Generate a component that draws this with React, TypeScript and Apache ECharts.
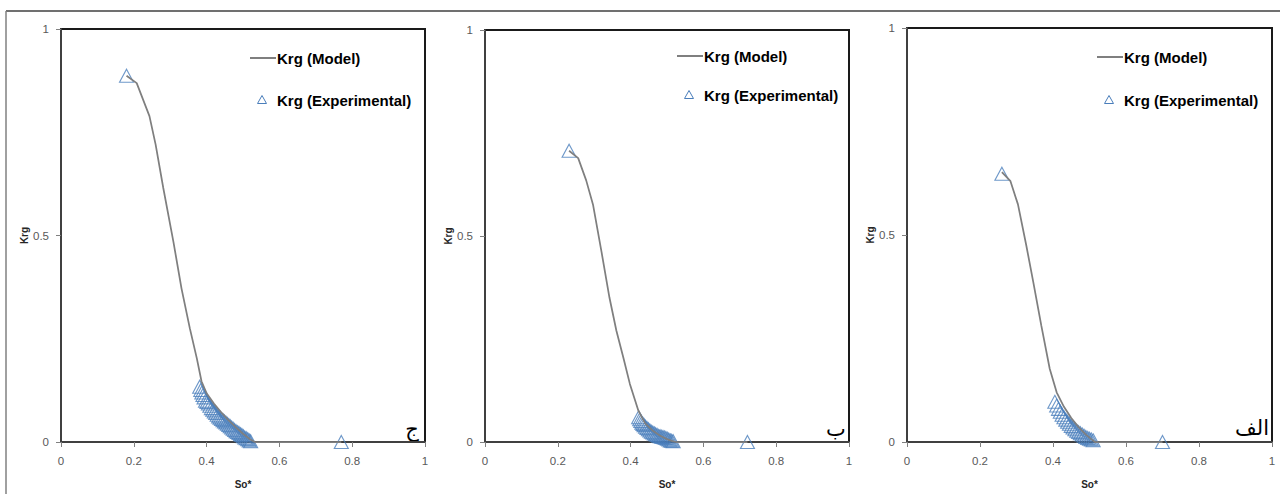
import React, { useEffect, useRef } from "react";
import * as echarts from "echarts";

// Panel ج (left)
const model1So = [0.18, 0.208, 0.243, 0.26, 0.281, 0.309, 0.331, 0.354, 0.373, 0.386, 0.4, 0.42, 0.44, 0.46, 0.48, 0.5, 0.52, 0.533, 0.77];
const model1Krg = [0.887, 0.869, 0.789, 0.72, 0.615, 0.484, 0.372, 0.275, 0.203, 0.147, 0.118, 0.093, 0.072, 0.053, 0.036, 0.02, 0.006, 0, 0];
const exp1So = [0.18, 0.381, 0.384, 0.387, 0.39, 0.393, 0.397, 0.401, 0.405, 0.409, 0.413, 0.417, 0.421, 0.425, 0.429, 0.433, 0.437, 0.441, 0.445, 0.449, 0.453, 0.457, 0.461, 0.465, 0.469, 0.473, 0.477, 0.481, 0.485, 0.489, 0.493, 0.497, 0.501, 0.505, 0.509, 0.513, 0.517, 0.521, 0.77];
const exp1Krg = [0.887, 0.134, 0.126, 0.12, 0.114, 0.108, 0.1, 0.097, 0.093, 0.088, 0.082, 0.078, 0.074, 0.07, 0.066, 0.062, 0.059, 0.056, 0.053, 0.05, 0.047, 0.044, 0.041, 0.038, 0.035, 0.032, 0.029, 0.026, 0.024, 0.022, 0.019, 0.017, 0.014, 0.011, 0.009, 0.007, 0.004, 0.002, 0];

// Panel ب (middle)
const model2So = [0.231, 0.256, 0.278, 0.297, 0.32, 0.342, 0.361, 0.38, 0.398, 0.421, 0.44, 0.46, 0.48, 0.5, 0.515, 0.525, 0.721];
const model2Krg = [0.707, 0.689, 0.635, 0.575, 0.462, 0.35, 0.27, 0.205, 0.141, 0.077, 0.045, 0.028, 0.016, 0.007, 0.002, 0, 0];
const exp2So = [0.231, 0.422, 0.425, 0.428, 0.431, 0.434, 0.437, 0.441, 0.445, 0.449, 0.453, 0.457, 0.461, 0.465, 0.469, 0.473, 0.477, 0.481, 0.485, 0.489, 0.493, 0.497, 0.501, 0.505, 0.509, 0.513, 0.517, 0.721];
const exp2Krg = [0.707, 0.06, 0.055, 0.051, 0.047, 0.044, 0.041, 0.037, 0.034, 0.031, 0.028, 0.025, 0.023, 0.021, 0.019, 0.017, 0.015, 0.014, 0.013, 0.012, 0.011, 0.01, 0.008, 0.006, 0.004, 0.003, 0.002, 0];

// Panel الف (right)
const model3So = [0.26, 0.2835, 0.304, 0.327, 0.346, 0.368, 0.391, 0.41, 0.43, 0.45, 0.47, 0.49, 0.505, 0.515, 0.7];
const model3Krg = [0.652, 0.63, 0.574, 0.474, 0.386, 0.281, 0.177, 0.12, 0.085, 0.058, 0.036, 0.018, 0.007, 0, 0];
const exp3So = [0.26, 0.405, 0.41, 0.415, 0.42, 0.425, 0.43, 0.435, 0.44, 0.445, 0.45, 0.455, 0.46, 0.465, 0.47, 0.475, 0.48, 0.485, 0.49, 0.495, 0.5, 0.505, 0.51, 0.7];
const exp3Krg = [0.648, 0.097, 0.088, 0.08, 0.073, 0.066, 0.06, 0.054, 0.049, 0.044, 0.039, 0.035, 0.031, 0.027, 0.024, 0.021, 0.018, 0.015, 0.012, 0.01, 0.008, 0.006, 0.004, 0];

const panelLetters = ["ج", "ب", "الف"];
const modelName = "Krg (Model)";
const expName = "Krg (Experimental)";
const xName = "So*";
const yName = "Krg";

const zip = (a: number[], b: number[]) => a.map((v, i) => [v, b[i]]);

const panels = [
  { model: zip(model1So, model1Krg), exp: zip(exp1So, exp1Krg), grid: { left: 61, top: 29, width: 364, height: 415 }, leg: { lx: 250, ly1: 58, ly2: 100, tx: 262 }, letter: { x: 412, y: 429 } },
  { model: zip(model2So, model2Krg), exp: zip(exp2So, exp2Krg), grid: { left: 485, top: 30, width: 364, height: 415 }, leg: { lx: 677, ly1: 56, ly2: 95, tx: 689 }, letter: { x: 836, y: 429 } },
  { model: zip(model3So, model3Krg), exp: zip(exp3So, exp3Krg), grid: { left: 907, top: 28, width: 365, height: 415 }, leg: { lx: 1097, ly1: 57, ly2: 100, tx: 1109 }, letter: { x: 1252, y: 428 } },
];

const BLUE = "#4A7EBB";
const GRAY = "#7F7F7F";
const FONT = '"Liberation Sans", Arial, sans-serif';

export default function App() {
  const ref = useRef<HTMLDivElement>(null);
  useEffect(() => {
    if (!ref.current) return;
    const chart = echarts.init(ref.current, undefined, { renderer: "svg" });
    const grids = panels.map((p) => ({ ...p.grid, show: true, borderColor: "#1a1a1a", borderWidth: 2, backgroundColor: "transparent", containLabel: false }));
    const xAxes = panels.map((_, i) => ({
      type: "value", gridIndex: i, min: 0, max: 1, interval: 0.2,
      name: xName, nameLocation: "middle", nameGap: 37,
      nameTextStyle: { fontFamily: FONT, fontWeight: "bold", fontSize: 10, color: "#262626" },
      axisLine: { show: true, lineStyle: { color: "#404040", width: 2 } },
      axisTick: { show: true, length: 5, lineStyle: { color: "#808080" } },
      axisLabel: { fontFamily: FONT, fontSize: 11.5, color: "#595959", margin: 13 },
      splitLine: { show: false },
    }));
    const yAxes = panels.map((_, i) => ({
      type: "value", gridIndex: i, min: 0, max: 1, interval: 0.5,
      name: yName, nameLocation: "middle", nameGap: 32, nameRotate: 90,
      nameTextStyle: { fontFamily: FONT, fontWeight: "bold", fontSize: 10, color: "#262626" },
      axisLine: { show: true, lineStyle: { color: "#404040", width: 2 } },
      axisTick: { show: true, length: 5, lineStyle: { color: "#808080" } },
      axisLabel: { fontFamily: FONT, fontSize: 11.5, color: "#595959", margin: 12 },
      splitLine: { show: false },
    }));
    const series: any[] = [];
    panels.forEach((p, i) => {
      series.push({
        type: "line", name: modelName, xAxisIndex: i, yAxisIndex: i, data: p.model,
        showSymbol: false, symbol: "none", lineStyle: { color: GRAY, width: 1.75 }, z: 3,
      });
      series.push({
        type: "scatter", name: expName, xAxisIndex: i, yAxisIndex: i, data: p.exp,
        symbol: "triangle", symbolSize: [14, 13],
        itemStyle: { color: "rgba(0,0,0,0)", borderColor: BLUE, borderWidth: 1.1 }, z: 2,
      });
    });
    const graphic: any[] = [
      { type: "line", shape: { x1: 6, y1: 11, x2: 1280, y2: 11 }, style: { stroke: "#404040", lineWidth: 1.5 } },
      { type: "line", shape: { x1: 6, y1: 11, x2: 6, y2: 494 }, style: { stroke: "#808080", lineWidth: 1.5 } },
    ];
    panels.forEach((p, i) => {
      const L = p.leg;
      graphic.push({ type: "line", shape: { x1: L.lx, y1: L.ly1, x2: L.lx + 26, y2: L.ly1 }, style: { stroke: GRAY, lineWidth: 2 } });
      graphic.push({ type: "text", x: L.lx + 27, y: L.ly1, style: { text: modelName, font: `bold 15px ${FONT}`, fill: "#000", verticalAlign: "middle", align: "left" } });
      graphic.push({ type: "polygon", shape: { points: [[L.tx, L.ly2 - 4.5], [L.tx - 4.5, L.ly2 + 3.5], [L.tx + 4.5, L.ly2 + 3.5]] }, style: { fill: "none", stroke: BLUE, lineWidth: 1 } });
      graphic.push({ type: "text", x: L.lx + 27, y: L.ly2, style: { text: expName, font: `bold 15px ${FONT}`, fill: "#000", verticalAlign: "middle", align: "left" } });
      graphic.push({ type: "text", x: p.letter.x, y: p.letter.y, style: { text: panelLetters[i], font: `21px "DejaVu Sans", sans-serif`, fill: "#000", verticalAlign: "middle", align: "center" } });
    });
    chart.setOption({
      animation: false,
      backgroundColor: "#fff",
      grid: grids,
      xAxis: xAxes,
      yAxis: yAxes,
      series,
      graphic,
    });
    return () => chart.dispose();
  }, []);
  return <div ref={ref} style={{ position: "absolute", left: 0, top: 0, width: 1280, height: 494 }} />;
}
